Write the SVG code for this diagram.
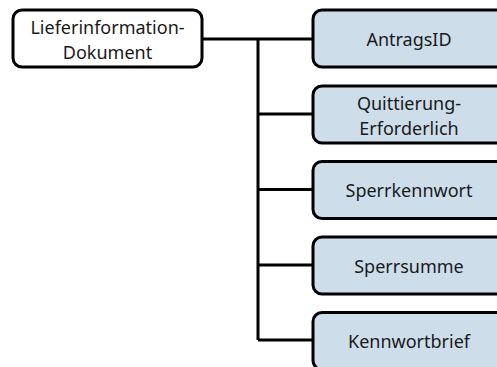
<svg xmlns="http://www.w3.org/2000/svg" width="497" height="367" viewBox="0 0 497 367">
  <style>
    .node rect { stroke: #000; stroke-width: 3; }
    .root rect { fill: #ffffff; }
    .leaf rect { fill: #cddeea; }
    text { font-family: "Noto Sans", "Open Sans", sans-serif; font-size: 18px; fill: #1a1a1a; text-anchor: middle; }
    .links path { fill: none; stroke: #000; stroke-width: 3; }
  </style>
  <rect width="497" height="367" fill="#ffffff"/>

  <g class="links">
    <path d="M202 39 H258 M258 39 V340 M258 39 H313 M258 114 H313 M258 189.5 H313 M258 265 H313 M258 340 H313"/>
  </g>

  <g id="lieferinformation-dokument" class="node root">
    <rect x="13" y="10" width="189" height="57" rx="9"/>
    <text x="107.5" y="33.5">Lieferinformation-</text>
    <text x="107.5" y="58.5">Dokument</text>
  </g>

  <g id="antragsid" class="node leaf">
    <rect x="313" y="10" width="200" height="57" rx="9"/>
    <text x="409" y="46">AntragsID</text>
  </g>

  <g id="quittierung-erforderlich" class="node leaf">
    <rect x="313" y="86" width="200" height="57" rx="9"/>
    <text x="409" y="110">Quittierung-</text>
    <text x="409" y="135">Erforderlich</text>
  </g>

  <g id="sperrkennwort" class="node leaf">
    <rect x="313" y="161.5" width="200" height="57" rx="9"/>
    <text x="409" y="197">Sperrkennwort</text>
  </g>

  <g id="sperrsumme" class="node leaf">
    <rect x="313" y="237" width="200" height="57" rx="9"/>
    <text x="409" y="272.5">Sperrsumme</text>
  </g>

  <g id="kennwortbrief" class="node leaf">
    <rect x="313" y="312.5" width="200" height="57" rx="9"/>
    <text x="409" y="348">Kennwortbrief</text>
  </g>
</svg>
